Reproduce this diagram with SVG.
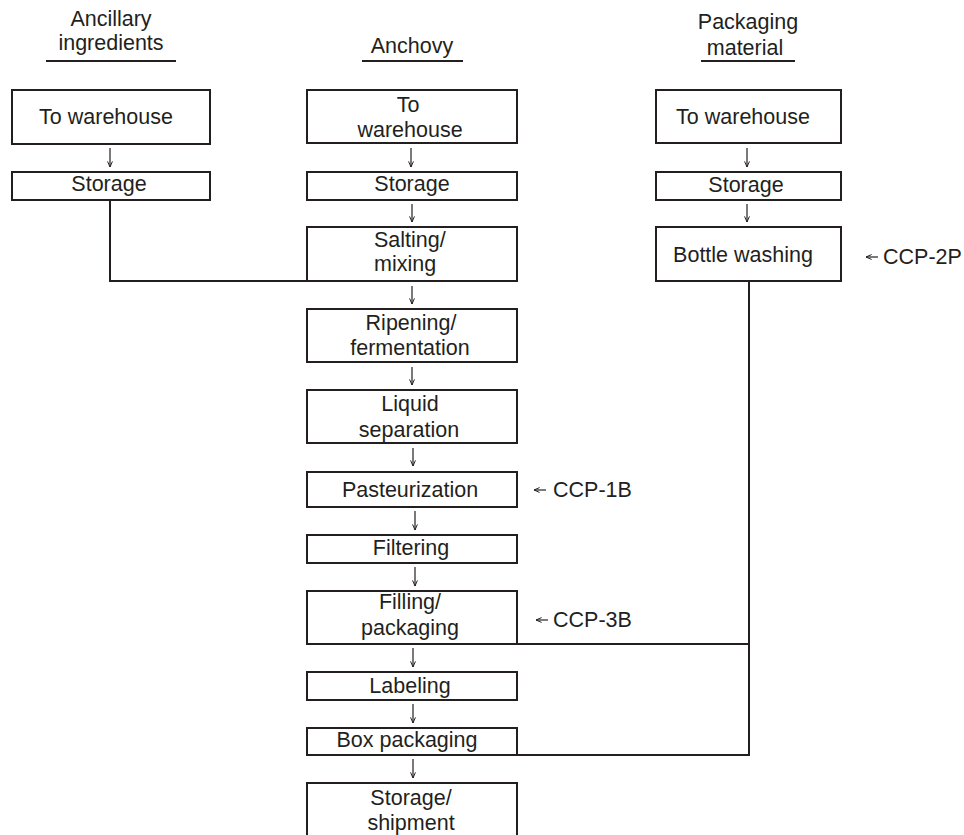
<svg xmlns="http://www.w3.org/2000/svg" width="964" height="835" viewBox="0 0 964 835">
  <style>
    .box { fill: #fff; stroke: #231f20; stroke-width: 2; }
    .t { font-family: "Liberation Sans", Arial, sans-serif; font-size: 21.5px; fill: #231f20; text-anchor: middle; }
    .l { text-anchor: start; }
    .rule { stroke: #231f20; stroke-width: 2.2; }
    .conn { fill: none; stroke: #231f20; stroke-width: 2; }
    .arr { fill: none; stroke: #231f20; stroke-width: 1.2; marker-end: url(#head); }
  </style>
  <defs>
    <marker id="head" viewBox="0 0 10 10" refX="9" refY="5" markerWidth="7" markerHeight="7" markerUnits="userSpaceOnUse" orient="auto">
      <path d="M1 1.5 L9 5 L1 8.5" fill="none" stroke="#231f20" stroke-width="1.4"/>
    </marker>
  </defs>
  <rect width="964" height="835" fill="#fff"/>

  <!-- column headings -->
  <g id="head-ancillary">
    <text class="t" x="111" y="26">Ancillary</text>
    <text class="t" x="111" y="50">ingredients</text>
    <line class="rule" x1="46" y1="61" x2="176" y2="61"/>
  </g>
  <g id="head-anchovy">
    <text class="t" x="412" y="53">Anchovy</text>
    <line class="rule" x1="362" y1="61" x2="463" y2="61"/>
  </g>
  <g id="head-packaging">
    <text class="t" x="748" y="29">Packaging</text>
    <text class="t" x="745" y="55">material</text>
    <line class="rule" x1="701" y1="61" x2="795" y2="61"/>
  </g>

  <!-- connectors -->
  <g id="connectors">
    <path class="conn" d="M110 200 V281 H307"/>
    <path class="conn" d="M749 281 V755 H517 M749 644 H517"/>
    <line class="arr" x1="110" y1="148" x2="110" y2="167"/>
    <line class="arr" x1="411" y1="148" x2="411" y2="167"/>
    <line class="arr" x1="412" y1="204" x2="412" y2="222"/>
    <line class="arr" x1="747" y1="148" x2="747" y2="167"/>
    <line class="arr" x1="747" y1="204" x2="747" y2="222"/>
    <line class="arr" x1="412" y1="286" x2="412" y2="304"/>
    <line class="arr" x1="412" y1="367" x2="412" y2="385"/>
    <line class="arr" x1="413" y1="448" x2="413" y2="466"/>
    <line class="arr" x1="415" y1="511" x2="415" y2="530"/>
    <line class="arr" x1="415" y1="567" x2="415" y2="586"/>
    <line class="arr" x1="413" y1="648" x2="413" y2="667"/>
    <line class="arr" x1="413" y1="704" x2="413" y2="723"/>
    <line class="arr" x1="413" y1="759" x2="413" y2="778"/>
    <line class="arr" x1="878" y1="257" x2="866" y2="257"/>
    <line class="arr" x1="546" y1="490" x2="534" y2="490"/>
    <line class="arr" x1="548" y1="620" x2="536" y2="620"/>
  </g>

  <!-- ancillary ingredients column -->
  <g id="anc-warehouse">
    <rect class="box" x="12" y="90" width="198" height="54"/>
    <text class="t" x="106" y="124">To warehouse</text>
  </g>
  <g id="anc-storage">
    <rect class="box" x="12" y="172" width="198" height="28"/>
    <text class="t" x="109" y="191">Storage</text>
  </g>

  <!-- anchovy column -->
  <g id="anchovy-warehouse">
    <rect class="box" x="307" y="90" width="210" height="53"/>
    <text class="t" x="408" y="112">To</text>
    <text class="t" x="410" y="137">warehouse</text>
  </g>
  <g id="anchovy-storage">
    <rect class="box" x="307" y="172" width="210" height="28"/>
    <text class="t" x="412" y="191">Storage</text>
  </g>
  <g id="salting">
    <rect class="box" x="307" y="227" width="210" height="54"/>
    <text class="t l" x="374" y="247">Salting/</text>
    <text class="t l" x="374" y="271">mixing</text>
  </g>
  <g id="ripening">
    <rect class="box" x="307" y="309" width="210" height="53"/>
    <text class="t" x="411" y="330">Ripening/</text>
    <text class="t" x="410" y="355">fermentation</text>
  </g>
  <g id="separation">
    <rect class="box" x="307" y="390" width="210" height="53"/>
    <text class="t" x="410" y="411">Liquid</text>
    <text class="t" x="409" y="437">separation</text>
  </g>
  <g id="pasteurization">
    <rect class="box" x="307" y="472" width="210" height="35"/>
    <text class="t" x="410" y="497">Pasteurization</text>
  </g>
  <g id="ccp-1b">
    <text class="t l" x="553" y="497">CCP-1B</text>
  </g>
  <g id="filtering">
    <rect class="box" x="307" y="535" width="210" height="28"/>
    <text class="t" x="411" y="555">Filtering</text>
  </g>
  <g id="filling">
    <rect class="box" x="307" y="591" width="210" height="53"/>
    <text class="t" x="410" y="609">Filling/</text>
    <text class="t" x="410" y="635">packaging</text>
  </g>
  <g id="ccp-3b">
    <text class="t l" x="553" y="627">CCP-3B</text>
  </g>
  <g id="labeling">
    <rect class="box" x="307" y="672" width="210" height="28"/>
    <text class="t" x="410" y="693">Labeling</text>
  </g>
  <g id="box-packaging">
    <rect class="box" x="307" y="728" width="210" height="27"/>
    <text class="t" x="407" y="747">Box packaging</text>
  </g>
  <g id="shipment">
    <rect class="box" x="307" y="783" width="210" height="70"/>
    <text class="t" x="411" y="805">Storage/</text>
    <text class="t" x="411" y="830">shipment</text>
  </g>

  <!-- packaging material column -->
  <g id="pack-warehouse">
    <rect class="box" x="656" y="90" width="185" height="53"/>
    <text class="t" x="743" y="124">To warehouse</text>
  </g>
  <g id="pack-storage">
    <rect class="box" x="656" y="172" width="185" height="28"/>
    <text class="t" x="746" y="192">Storage</text>
  </g>
  <g id="bottle-washing">
    <rect class="box" x="656" y="227" width="185" height="54"/>
    <text class="t" x="743" y="262">Bottle washing</text>
  </g>
  <g id="ccp-2p">
    <text class="t l" x="883" y="264">CCP-2P</text>
  </g>
</svg>
